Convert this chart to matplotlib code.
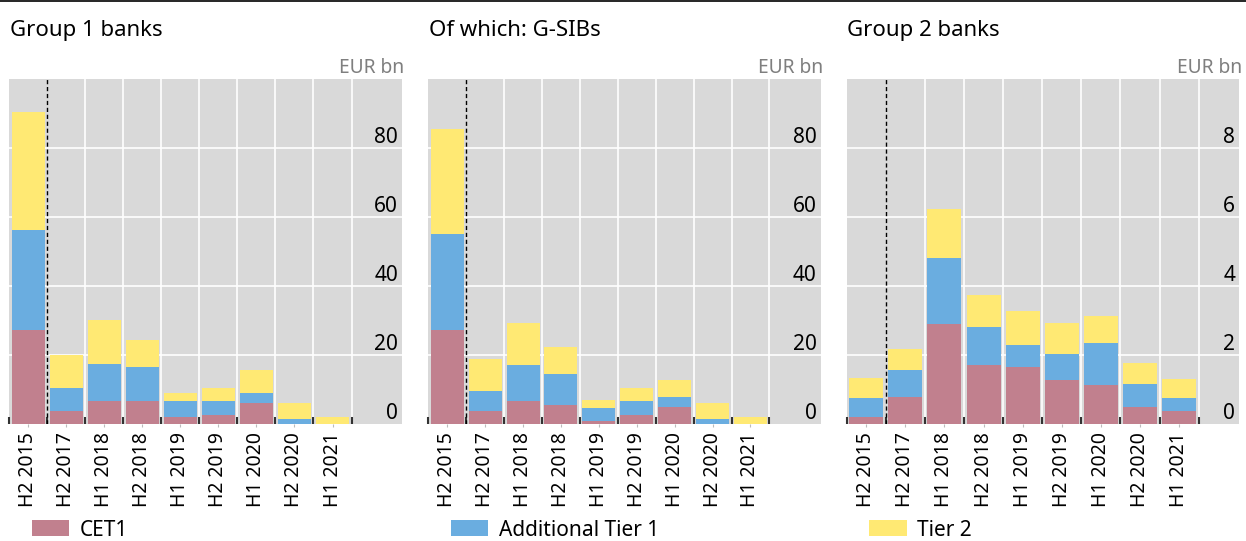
import matplotlib.pyplot as plt
import numpy as np
from matplotlib.lines import Line2D
from matplotlib.ticker import FixedLocator

plt.rcParams['font.family'] = ['Noto Sans', 'DejaVu Sans']

periods = ['H2 2015', 'H2 2017', 'H1 2018', 'H2 2018', 'H1 2019',
           'H2 2019', 'H1 2020', 'H2 2020', 'H1 2021']

# EUR bn
g1_cet1 = [27.3, 3.7, 6.6, 6.6, 2.1, 2.7, 6.0, 0.0, 0.0]
g1_at1 = [28.9, 6.8, 10.8, 10.0, 4.6, 4.0, 2.9, 1.5, 0.0]
g1_t2 = [34.4, 9.4, 12.8, 7.8, 2.4, 3.8, 6.8, 4.5, 2.1]

gsib_cet1 = [27.3, 3.9, 6.6, 5.6, 1.0, 2.7, 5.0, 0.0, 0.0]
gsib_at1 = [27.7, 5.7, 10.6, 9.0, 3.7, 4.0, 2.9, 1.5, 0.0]
gsib_t2 = [30.7, 9.3, 12.0, 7.8, 2.3, 3.8, 4.9, 4.5, 2.1]

g2_cet1 = [0.21, 0.79, 2.91, 1.72, 1.66, 1.28, 1.14, 0.50, 0.39]
g2_at1 = [0.55, 0.78, 1.90, 1.09, 0.63, 0.75, 1.21, 0.67, 0.37]
g2_t2 = [0.58, 0.61, 1.42, 0.93, 0.99, 0.90, 0.78, 0.60, 0.55]

titles = ['Group 1 banks', 'Of which: G-SIBs', 'Group 2 banks']
series_names = ['CET1', 'Additional Tier 1', 'Tier 2']
colors = ['#C1808E', '#6AADE0', '#FFE973']
bg = '#D9D9D9'

panels = [
    (g1_cet1, g1_at1, g1_t2, [0, 20, 40, 60, 80], 100, 9.83),
    (gsib_cet1, gsib_at1, gsib_t2, [0, 20, 40, 60, 80], 100, 9.86),
    (g2_cet1, g2_at1, g2_t2, [0, 2, 4, 6, 8], 10, 9.54),
]
lefts = [0.0075, 0.3437, 0.6795]
width = 0.3152
bottom, height = 0.2163, 0.637

fig = plt.figure(figsize=(12.46, 5.41), dpi=100)
fig.add_artist(Line2D([0, 1], [0.9985, 0.9985], color='black', lw=1.2))

x = np.arange(len(periods))
for i, (cet1, at1, t2, yt, ymax, xmax) in enumerate(panels):
    ax = fig.add_axes([lefts[i], bottom, width, height])
    ax.set_facecolor(bg)
    cet1 = np.array(cet1)
    at1 = np.array(at1)
    t2 = np.array(t2)
    b1 = ax.bar(x, cet1, 0.87, color=colors[0], zorder=3)
    b2 = ax.bar(x, at1, 0.87, bottom=cet1, color=colors[1], zorder=3)
    b3 = ax.bar(x, t2, 0.87, bottom=cet1 + at1, color=colors[2], zorder=3)
    ax.set_xlim(-0.5, xmax)
    ax.set_ylim(0, ymax)

    for s in ax.spines.values():
        s.set_visible(False)

    # grid: horizontal white lines, vertical white separators, dashed line after first bar
    for v in yt[1:]:
        ax.axhline(v, color='white', lw=1.2, zorder=1)
    for xv in np.arange(1.5, 9, 1):
        ax.axvline(xv, color='white', lw=1.2, zorder=1)
    ax.axvline(0.5, color='black', lw=1, ls=(0, (3, 2)), zorder=4)

    ax.set_xticks(x)
    ax.set_xticklabels(periods, rotation=90, fontsize=14)
    ax.tick_params(axis='x', which='major', length=2, color='#bbbbbb', pad=4)
    ax.xaxis.set_minor_locator(FixedLocator(np.arange(-0.5, 9, 1)))
    ax.tick_params(axis='x', which='minor', direction='in', length=5,
                   width=1.5, color='#333333')

    ax.yaxis.tick_right()
    ax.set_yticks(yt)
    ax.set_yticklabels([str(v) for v in yt], fontsize=15)
    ax.tick_params(axis='y', length=0, pad=-3)
    for lab in ax.get_yticklabels():
        lab.set_horizontalalignment('right')
        lab.set_verticalalignment('bottom')

    fig.text(lefts[i] + 0.0005, 1 - 36 / 541, titles[i], fontsize=16,
             va='baseline', ha='left')
    fig.text(lefts[i] + width + 0.002, 1 - 73 / 541, 'EUR bn', fontsize=13.8,
             color='#7F7F7F', va='baseline', ha='right')

    handle = [b1, b2, b3][i]
    ax.legend([handle], [series_names[i]], loc='center left',
              bbox_to_anchor=(lefts[i] + 0.018, 1 - 530 / 541),
              bbox_transform=fig.transFigure, frameon=False, fontsize=15,
              borderpad=0, borderaxespad=0, handlelength=1.8,
              handleheight=0.78, handletextpad=0.5)

plt.savefig('out.png', dpi=100)
